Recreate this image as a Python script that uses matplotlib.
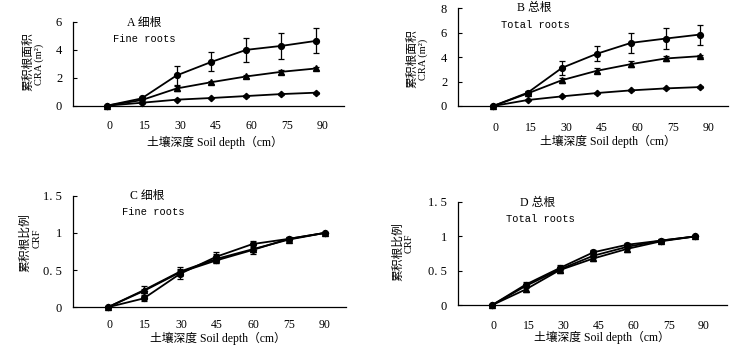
import matplotlib
matplotlib.use("Agg")
import matplotlib.pyplot as plt

plt.rcParams['font.family'] = ['Liberation Serif', 'Noto Sans CJK SC', 'DejaVu Sans']

depth = [0, 15, 30, 45, 60, 75, 90]
depth_labels = ["0", "15", "30", "45", "60", "75", "90"]

# Panel A: cumulative root area, fine roots
a_circle = [0, 0.52, 2.16, 3.13, 3.99, 4.27, 4.63]
a_circle_err = [0, 0.08, 0.68, 0.68, 0.87, 0.93, 0.89]
a_tri = [0, 0.40, 1.23, 1.68, 2.09, 2.42, 2.66]
a_tri_err = [0, 0.05, 0.20, 0.12, 0.10, 0.12, 0.12]
a_dia = [0, 0.21, 0.43, 0.55, 0.69, 0.83, 0.93]
a_dia_err = [0, 0.03, 0.03, 0.03, 0.04, 0.06, 0.07]

# Panel B: cumulative root area, total roots
b_circle = [0, 1.09, 3.13, 4.27, 5.17, 5.52, 5.85]
b_circle_err = [0, 0.12, 0.58, 0.61, 0.79, 0.86, 0.82]
b_tri = [0, 1.03, 2.12, 2.88, 3.43, 3.89, 4.08]
b_tri_err = [0, 0.08, 0.20, 0.20, 0.25, 0.22, 0.10]
b_dia = [0, 0.49, 0.79, 1.06, 1.28, 1.44, 1.55]
b_dia_err = [0, 0.03, 0.04, 0.04, 0.05, 0.06, 0.08]

# Panel C: cumulative root fraction, fine roots
c_circle = [0, 0.12, 0.45, 0.68, 0.85, 0.92, 1.0]
c_circle_err = [0, 0.03, 0.07, 0.06, 0.04, 0.02, 0]
c_tri = [0, 0.23, 0.48, 0.65, 0.78, 0.91, 1.0]
c_tri_err = [0, 0.06, 0.06, 0.06, 0.06, 0.02, 0]
c_dia = [0, 0.22, 0.47, 0.63, 0.77, 0.92, 1.0]
c_dia_err = [0, 0.03, 0.03, 0.03, 0.03, 0.02, 0]

# Panel D: cumulative root fraction, total roots
d_circle = [0, 0.30, 0.54, 0.77, 0.88, 0.94, 1.0]
d_circle_err = [0, 0.04, 0.04, 0.04, 0.03, 0.02, 0]
d_tri = [0, 0.23, 0.51, 0.68, 0.82, 0.93, 1.0]
d_tri_err = [0, 0.04, 0.04, 0.04, 0.04, 0.02, 0]
d_dia = [0, 0.28, 0.52, 0.72, 0.85, 0.94, 1.0]
d_dia_err = [0, 0.03, 0.03, 0.03, 0.03, 0.02, 0]

W, H = 740, 356
fig = plt.figure(figsize=(W / 100, H / 100), dpi=100)


def rect(l, r, t, b):
    return [l / W, 1 - b / H, (r - l) / W, (b - t) / H]


def ftext(px, py, s, **kw):
    fig.text(px / W, 1 - py / H, s, ha='center', va='center', **kw)


panels = [
    dict(rect=rect(73.3, 344, 21.7, 105.7), xlim=(-14.4, 102), ylim=(0, 6),
         yticks=[0, 2, 4, 6], yticklabels=["0", "2", "4", "6"],
         series=[(a_circle, a_circle_err, 'o'), (a_tri, a_tri_err, '^'), (a_dia, a_dia_err, 'D')],
         tshift=1.0, tscale=1.022, tpad=10),
    dict(rect=rect(458.3, 728, 8.3, 106), xlim=(-15.2, 102.2), ylim=(0, 8),
         yticks=[0, 2, 4, 6, 8], yticklabels=["0", "2", "4", "6", "8"],
         series=[(b_circle, b_circle_err, 'o'), (b_tri, b_tri_err, '^'), (b_dia, b_dia_err, 'D')],
         tshift=1.2, tscale=1.026, tpad=11.5),
    dict(rect=rect(73.3, 346, 195.7, 307.3), xlim=(-14.2, 98.7), ylim=(0, 1.5),
         yticks=[0, 0.5, 1, 1.5], yticklabels=["0", "0. 5", "1", "1. 5"],
         series=[(c_circle, c_circle_err, 'o'), (c_tri, c_tri_err, '^'), (c_dia, c_dia_err, 'D')],
         tshift=0.66, tscale=0.993, tpad=8.5),
    dict(rect=rect(458.3, 727, 202, 305.3), xlim=(-14.8, 104.1), ylim=(0, 1.5),
         yticks=[0, 0.5, 1, 1.5], yticklabels=["0", "0. 5", "1", "1. 5"],
         series=[(d_circle, d_circle_err, 'o'), (d_tri, d_tri_err, '^'), (d_dia, d_dia_err, 'D')],
         tshift=0.7, tscale=1.036, tpad=10.5),
]

for p in panels:
    ax = fig.add_axes(p['rect'])
    for vals, err, mk in p['series']:
        ms = 4.2 if mk != 'D' else 3.2
        ax.errorbar(depth, vals, yerr=err, color='black', marker=mk, ms=ms,
                    lw=1.3, elinewidth=0.9, capsize=2.5, capthick=0.9, clip_on=False)
    ax.set_xlim(*p['xlim'])
    ax.set_ylim(*p['ylim'])
    ax.spines['top'].set_visible(False)
    ax.spines['right'].set_visible(False)
    ax.spines['left'].set_linewidth(0.9)
    ax.spines['bottom'].set_linewidth(0.9)
    ax.set_yticks(p['yticks'])
    ax.set_yticklabels(p['yticklabels'], fontsize=9)
    ax.tick_params(axis='y', direction='in', length=3, width=0.8, pad=8)
    ax.set_xticks([p['tshift'] + d * p['tscale'] for d in depth])
    ax.set_xticklabels(depth_labels, fontsize=8.5)
    ax.tick_params(axis='x', length=0, pad=p['tpad'])

# x-axis labels
xl = "土壤深度 Soil depth（cm）"
for px, py in [(214.5, 142), (607.5, 141), (217.5, 338.5), (602, 337.5)]:
    ftext(px, py, xl, fontsize=8.5, family=['Liberation Serif', 'Noto Sans CJK SC'])

# y-axis labels
for px, py, s in [(28, 62, "累积根面积"), (412, 59, "累积根面积"),
                  (25, 242.5, "累积根比例"), (398, 251.7, "累积根比例")]:
    ftext(px, py, s, fontsize=8.5, rotation=90, family=['Noto Sans CJK SC'])
for px, py, s in [(39.5, 64, "CRA (m²)"), (423, 59, "CRA (m²)"),
                  (37, 238, "CRF"), (409.5, 243, "CRF")]:
    ftext(px, py, s, fontsize=7.5, rotation=90, family=['Liberation Serif', 'DejaVu Sans'])

# panel titles
for px, py, s in [(144, 23, "A 细根"), (534, 8.3, "B 总根"),
                  (146.7, 195.7, "C 细根"), (538, 203.3, "D 总根")]:
    ftext(px, py, s, fontsize=8.5, family=['Liberation Serif', 'Noto Sans CJK SC'])
for px, py, s in [(144.5, 39, "Fine roots"), (535, 25, "Total roots"),
                  (153, 212.3, "Fine roots"), (540, 219, "Total roots")]:
    ftext(px, py, s, fontsize=7.5, family=['Liberation Mono'])

fig.savefig("out.png", dpi=100)
